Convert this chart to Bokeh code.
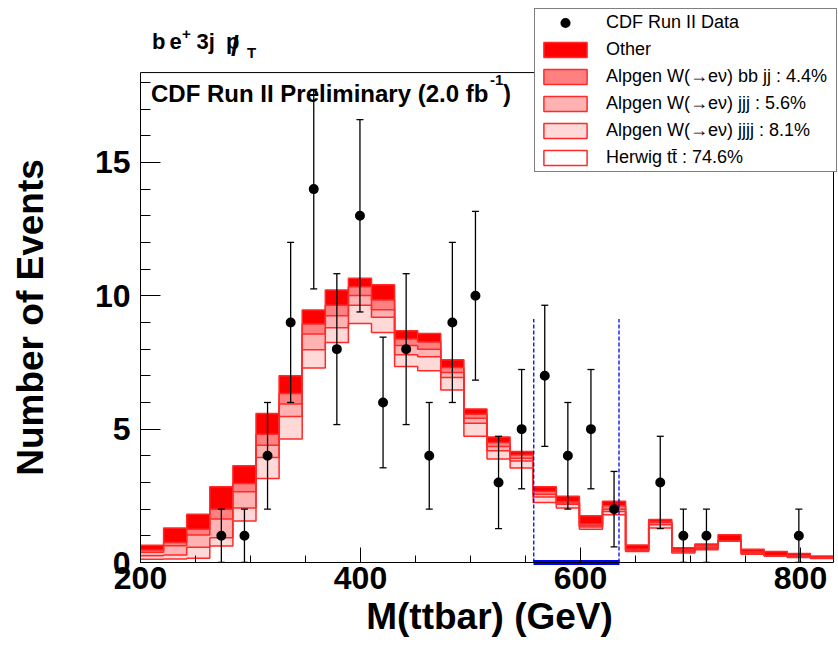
import numpy as np
from bokeh.plotting import figure
from bokeh.models import (Range1d, SingleIntervalTicker, FixedTicker, ColumnDataSource, Whisker,
                          TeeHead, Label, Legend, LegendItem, LinearAxis)
from bokeh.embed import file_html
from bokeh.resources import INLINE

# ---------------- data ----------------
x_min, x_max, n_bins = 200.0, 830.0, 30
y_max = 18.37

data_counts = [0, 0, 0, 1, 1, 4, 9, 14, 8, 13, 6, 8, 4, 9, 10,
               3, 5, 7, 4, 5, 2, 0, 3, 1, 1, 0, 0, 0, 1, 0]

herwig_tt = [0.12, 0.13, 0.16, 0.62, 1.56, 3.15, 4.63, 7.29, 8.25, 8.96,
             8.62, 7.35, 7.19, 6.47, 4.73, 3.88, 3.54, 2.25, 2.04, 1.25,
             1.79, 0.41, 1.29, 0.36, 0.48, 0.80, 0.31, 0.24, 0.19, 0.15]
alpgen_jjjj = [0.13, 0.15, 0.41, 0.31, 0.48, 0.79, 0.84, 0.69, 0.55, 0.69,
               0.58, 0.44, 0.52, 0.47, 0.49, 0.31, 0.27, 0.21, 0.14, 0.08,
               0.12, 0.02, 0.13, 0.04, 0.04, 0.01, 0.03, 0.01, 0.02, 0.01]
alpgen_jjj = [0.13, 0.35, 0.46, 0.70, 0.61, 0.46, 0.47, 0.59, 0.45, 0.36,
              0.28, 0.35, 0.29, 0.18, 0.19, 0.16, 0.10, 0.10, 0.05, 0.05,
              0.09, 0.03, 0.07, 0.04, 0.05, 0.01, 0.04, 0.00, 0.02, 0.00]
alpgen_bbjj = [0.09, 0.12, 0.22, 0.37, 0.31, 0.41, 0.40, 0.37, 0.40, 0.33,
               0.36, 0.24, 0.27, 0.19, 0.15, 0.15, 0.12, 0.10, 0.05, 0.06,
               0.13, 0.04, 0.05, 0.04, 0.06, 0.00, 0.03, 0.01, 0.02, 0.01]
other = [0.18, 0.54, 0.56, 0.84, 0.67, 0.78, 0.66, 0.53, 0.57, 0.32,
         0.57, 0.31, 0.32, 0.29, 0.20, 0.21, 0.13, 0.18, 0.20, 0.31,
         0.17, 0.16, 0.07, 0.07, 0.06, 0.22, 0.09, 0.15, 0.09, 0.07]

window_edges = [557.5, 635.0]
window_line_top = 9.13

x_ticks_interval = 200
y_ticks_interval = 5

legend_labels = ["CDF Run II Data", "Other",
                 "Alpgen W(\u2192e\u03bd) bb jj : 4.4%",
                 "Alpgen W(\u2192e\u03bd) jjj : 5.6%",
                 "Alpgen W(\u2192e\u03bd) jjjj : 8.1%",
                 "Herwig tt\u0304 : 74.6%"]

# ---------------- styles / layout ----------------
FONT = "Liberation Sans"
LINE_RED = "#ff2a2a"
stack_components = [herwig_tt, alpgen_jjjj, alpgen_jjj, alpgen_bbjj, other]
stack_fills = ["#ffffff", "#ffd8d8", "#ffb2b2", "#ff8080", "#ff0000"]

W, H = 838, 648
FRAME_L, FRAME_B = 140, 562          # canvas position of the frame's left / bottom
PX_PER_X = 1.1                        # pixels per GeV
PX_PER_Y = 26.67                      # pixels per event
LABEL_DY = -8.5                       # correction of the label baseline placement

def sx(cx):
    return cx - FRAME_L

def sy(cy):
    return FRAME_B - cy

edges = np.linspace(x_min, x_max, n_bins + 1)
centers = 0.5 * (edges[:-1] + edges[1:])
cum = np.cumsum(np.array(stack_components), axis=0)

x_view_end = x_min + (W - FRAME_L) / PX_PER_X
y_view_end = FRAME_B / PX_PER_Y

p = figure(width=W, height=H, x_range=Range1d(x_min, x_view_end),
           y_range=Range1d(0, y_view_end),
           output_backend="svg", toolbar_location=None, title=None,
           min_border_left=FRAME_L, min_border_right=0, min_border_top=0,
           min_border_bottom=H - FRAME_B)
p.xgrid.visible = False
p.ygrid.visible = False
p.outline_line_color = None
p.background_fill_color = "white"
p.border_fill_color = "white"

# ---- axes ----
xa = p.xaxis[0]
xa.ticker = SingleIntervalTicker(interval=x_ticks_interval, num_minor_ticks=4)
xa.bounds = (x_min, x_max)
xa.axis_label = "M(ttbar) (GeV)"
xa.major_tick_in = 15
xa.major_tick_out = 0
xa.minor_tick_in = 7
xa.minor_tick_out = 0
xa.major_label_standoff = 4
xa.axis_label_standoff = 4

ya = p.yaxis[0]
ya.ticker = SingleIntervalTicker(interval=y_ticks_interval, num_minor_ticks=5)
ya.bounds = (0, y_max)
# trailing no-break spaces re-centre the title on the boxed part of the axis
ya.axis_label = "Number of Events" + "\u00a0" * 7
ya.major_tick_in = 20
ya.major_tick_out = 0
ya.minor_tick_in = 10
ya.minor_tick_out = 0
ya.major_label_standoff = 10
ya.axis_label_standoff = 41

for ax in (xa, ya):
    ax.axis_line_color = "black"
    ax.major_tick_line_color = "black"
    ax.minor_tick_line_color = "black"
    ax.major_label_text_font = FONT
    ax.major_label_text_font_style = "bold"
    ax.major_label_text_font_size = "32px"
    ax.major_label_text_color = "black"
    ax.axis_label_text_font = FONT
    ax.axis_label_text_font_style = "bold"
    ax.axis_label_text_font_size = "37px"
    ax.axis_label_text_color = "black"

# thick blue mark along the axis for the mass window (first panel below the frame)
win_axis = LinearAxis(ticker=FixedTicker(ticks=[600]), bounds=tuple(window_edges),
                      axis_line_color="blue", axis_line_width=5,
                      major_tick_in=0, major_tick_out=0, minor_tick_in=0, minor_tick_out=0,
                      major_tick_line_color=None, minor_tick_line_color=None,
                      major_label_standoff=0, axis_label_standoff=0,
                      major_label_text_font_size="0px", major_label_text_alpha=0)
p.below = [win_axis, xa]

# ---- stacked histogram fills ----
proxy = []
for k in range(len(stack_components)):
    bottom = cum[k - 1] if k > 0 else np.zeros(n_bins)
    src = ColumnDataSource(dict(left=edges[:-1], right=edges[1:], bottom=bottom, top=cum[k]))
    p.quad(left="left", right="right", bottom="bottom", top="top", source=src,
           fill_color=stack_fills[k], line_color=None)
    pr = p.quad(left="left", right="right", bottom="bottom", top="top", source=src,
                fill_color=stack_fills[k], line_color=LINE_RED, line_width=1.5)
    pr.visible = False          # legend-only copy with the red border
    proxy.append(pr)

# ---- outlines of each cumulative level ----
for k in range(len(stack_components)):
    p.step(x=edges, y=np.append(cum[k], cum[k][-1]), mode="after",
           line_color=LINE_RED, line_width=1.5)

# ---- ROOT-style frame box ----
p.quad(left=[x_min], right=[x_max], bottom=[0], top=[y_max],
       fill_color=None, line_color="black", line_width=1)

# ---- signal window ----
p.segment(x0=window_edges, y0=[0, 0], x1=window_edges, y1=[window_line_top] * 2,
          line_color="blue", line_width=1.3, line_dash="4 2")

# ---- data ----
dc = np.array(data_counts, dtype=float)
mask = dc > 0
err = np.sqrt(dc[mask])
dsrc = ColumnDataSource(dict(x=centers[mask], y=dc[mask],
                             lo=dc[mask] - err, hi=dc[mask] + err))
wh = Whisker(source=dsrc, base="x", lower="lo", upper="hi", dimension="height",
             line_color="black", line_width=1.3,
             lower_head=TeeHead(size=7, line_color="black", line_width=1.3),
             upper_head=TeeHead(size=7, line_color="black", line_width=1.3))
wh.level = "annotation"
p.add_layout(wh)
r_data = p.scatter(x="x", y="y", source=dsrc, marker="circle", size=7.5,
                   fill_color="black", line_color="black", line_width=2.5)

# ---- legend ----
items = [LegendItem(label=legend_labels[0], renderers=[r_data]),
         LegendItem(label=legend_labels[1], renderers=[proxy[4]]),
         LegendItem(label=legend_labels[2], renderers=[proxy[3]]),
         LegendItem(label=legend_labels[3], renderers=[proxy[2]]),
         LegendItem(label=legend_labels[4], renderers=[proxy[1]]),
         LegendItem(label=legend_labels[5], renderers=[proxy[0]])]
legend = Legend(items=items, location=(sx(534), sy(172.3)),
                padding=3, spacing=6, margin=0,
                glyph_width=54, glyph_height=19, label_height=20, label_width=227,
                label_standoff=14,
                label_text_font=FONT, label_text_font_size="18px", label_text_color="black",
                border_line_color="black", border_line_width=1,
                background_fill_color="white", background_fill_alpha=1,
                inactive_fill_alpha=0)
legend.click_policy = "none"
p.add_layout(legend)

# ---- texts ----
def add_text(t, cx, cy, size, bold=True):
    p.add_layout(Label(x=sx(cx), y=sy(cy + LABEL_DY), x_units="screen", y_units="screen",
                       text=t, text_font=FONT, text_font_style="bold" if bold else "normal",
                       text_font_size=f"{size}px", text_color="black",
                       text_baseline="alphabetic", text_align="left"))

add_text("b", 151.5, 49.3, 22)
add_text("e", 169.0, 49.3, 22)
add_text("+", 181.5, 42.0, 15)
add_text("3j", 196.0, 49.3, 22)
add_text("p", 225.5, 49.3, 22)
add_text("/", 230.5, 53.0, 28)
add_text("T", 246.5, 60.7, 15)

add_text("CDF Run II Preliminary (2.0 fb", 150.5, 101.7, 24)
add_text("-1", 489.5, 88.0, 15)
add_text(")", 502.5, 101.7, 24)

open("out.html", "w").write(file_html(p, INLINE))
